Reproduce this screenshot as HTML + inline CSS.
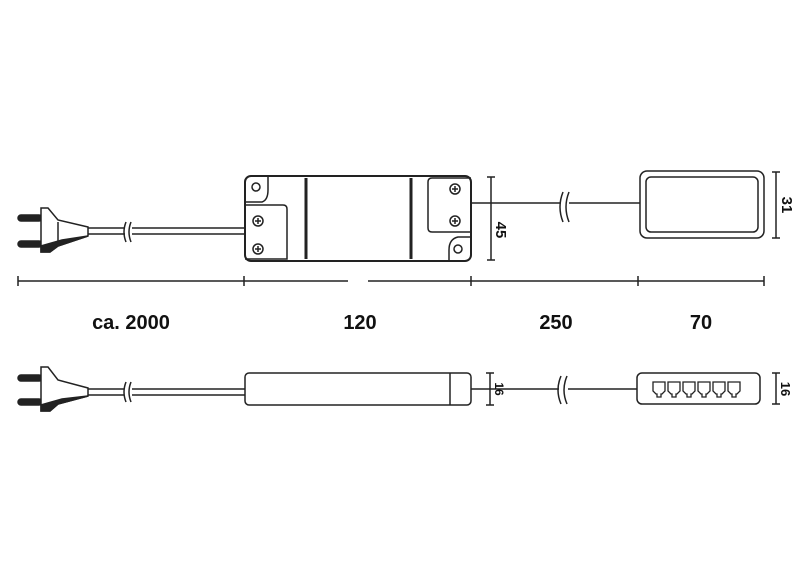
<!DOCTYPE html>
<html><head><style>html,body{margin:0;padding:0;background:#fff}svg{display:block}</style></head>
<body>
<svg width="800" height="584" viewBox="0 0 800 584" xmlns="http://www.w3.org/2000/svg" font-family="Liberation Sans, sans-serif">
<g fill="none" stroke="#222" stroke-width="1.5">
<!-- TOP plug -->
<rect x="18" y="215" width="24" height="6" rx="3" fill="#222"/>
<rect x="18" y="241" width="24" height="6" rx="3" fill="#222"/>
<path d="M41 208 L48 208 L58 220 L88 227 L88 236 L58 246 L50 252 L41 252 Z" fill="#fff"/>
<path d="M41 252 L50 252 L58 246 L88 236 L62 240 L41 246 Z" fill="#222"/>
<line x1="58" y1="222" x2="58" y2="244"/>
<!-- top cable -->
<line x1="88" y1="228" x2="245" y2="228"/>
<line x1="88" y1="234" x2="245" y2="234"/>
<rect x="125" y="226" width="7" height="10" fill="#fff" stroke="none"/>
<path d="M126 222 q-4 10 0 20 M131 222 q-4 10 0 20"/>
<!-- box -->
<rect x="245" y="176" width="226" height="85" rx="6" stroke-width="2"/>
<line x1="306" y1="178" x2="306" y2="259" stroke-width="3"/>
<line x1="411" y1="178" x2="411" y2="259" stroke-width="3"/>
<path d="M245 202 L262 202 Q268 200 268 190 L268 176"/>
<circle cx="256" cy="187" r="4"/>
<path d="M245 205 L283 205 Q287 205 287 209 L287 259 L245 259"/>
<circle cx="258" cy="221" r="5"/><path d="M255 221h6M258 218v6"/>
<circle cx="258" cy="249" r="5"/><path d="M255 249h6M258 246v6"/>
<path d="M471 178 L432 178 Q428 178 428 182 L428 228 Q428 232 432 232 L471 232"/>
<circle cx="455" cy="189" r="5"/><path d="M452 189h6M455 186v6"/>
<circle cx="455" cy="221" r="5"/><path d="M452 221h6M455 218v6"/>
<path d="M471 237 L458 237 Q449 239 449 250 L449 261"/>
<circle cx="458" cy="249" r="4"/>
<!-- right cable -->
<line x1="471" y1="203" x2="640" y2="203"/>
<rect x="561" y="200" width="8" height="6" fill="#fff" stroke="none"/>
<path d="M563 192 q-6 15 0 30 M569 192 q-6 15 0 30"/>
<!-- module -->
<rect x="640" y="171" width="124" height="67" rx="7"/>
<rect x="646" y="177" width="112" height="55" rx="5"/>
<!-- dims vertical -->
<line x1="491" y1="177" x2="491" y2="260"/><path d="M487 177h8M487 260h8"/>
<line x1="776" y1="172" x2="776" y2="238"/><path d="M772 172h8M772 238h8"/>
<!-- dim line horizontal -->
<line x1="18" y1="281" x2="348" y2="281"/>
<line x1="368" y1="281" x2="764" y2="281"/>
<path d="M18 276v10M244 276v10M471 276v10M638 276v10M764 276v10"/>
<!-- BOTTOM -->
<rect x="18" y="375" width="24" height="6" rx="3" fill="#222"/>
<rect x="18" y="399" width="24" height="6" rx="3" fill="#222"/>
<path d="M41 367 L48 367 L58 380 L88 388 L88 396 L58 404 L50 411 L41 411 Z" fill="#fff"/>
<path d="M41 411 L50 411 L58 404 L88 396 L62 399 L41 405 Z" fill="#222"/>
<line x1="88" y1="389" x2="245" y2="389"/>
<line x1="88" y1="395" x2="245" y2="395"/>
<rect x="124" y="387" width="8" height="10" fill="#fff" stroke="none"/>
<path d="M126 382 q-4 10 0 20 M131 382 q-4 10 0 20"/>
<rect x="245" y="373" width="226" height="32" rx="4"/>
<line x1="450" y1="373" x2="450" y2="405"/>
<line x1="471" y1="389" x2="637" y2="389"/>
<rect x="559" y="386" width="9" height="6" fill="#fff" stroke="none"/>
<path d="M561 376 q-6 14 0 28 M567 376 q-6 14 0 28"/>
<line x1="490" y1="373" x2="490" y2="405"/><path d="M486 373h8M486 405h8"/>
<rect x="637" y="373" width="123" height="31" rx="5"/>
<g stroke-width="1.3">
<path d="M653 382h12v9l-3 3h-1v3h-4v-3h-1l-3-3z"/>
<path d="M668 382h12v9l-3 3h-1v3h-4v-3h-1l-3-3z"/>
<path d="M683 382h12v9l-3 3h-1v3h-4v-3h-1l-3-3z"/>
<path d="M698 382h12v9l-3 3h-1v3h-4v-3h-1l-3-3z"/>
<path d="M713 382h12v9l-3 3h-1v3h-4v-3h-1l-3-3z"/>
<path d="M728 382h12v9l-3 3h-1v3h-4v-3h-1l-3-3z"/>
</g>
<line x1="776" y1="373" x2="776" y2="404"/><path d="M772 373h8M772 404h8"/>
</g>
<g fill="#111" font-weight="bold" font-size="20" text-anchor="middle">
<text x="131" y="329">ca. 2000</text>
<text x="360" y="329">120</text>
<text x="556" y="329">250</text>
<text x="701" y="329">70</text>
</g>
<g fill="#111" font-weight="bold" font-size="15" text-anchor="middle">
<text transform="translate(496,230) rotate(90)">45</text>
<text transform="translate(782,205) rotate(90)">31</text>
<text transform="translate(495,389) rotate(90)" font-size="12">16</text>
<text transform="translate(781,389) rotate(90)" font-size="13">16</text>
</g>
</svg>
</body></html>
